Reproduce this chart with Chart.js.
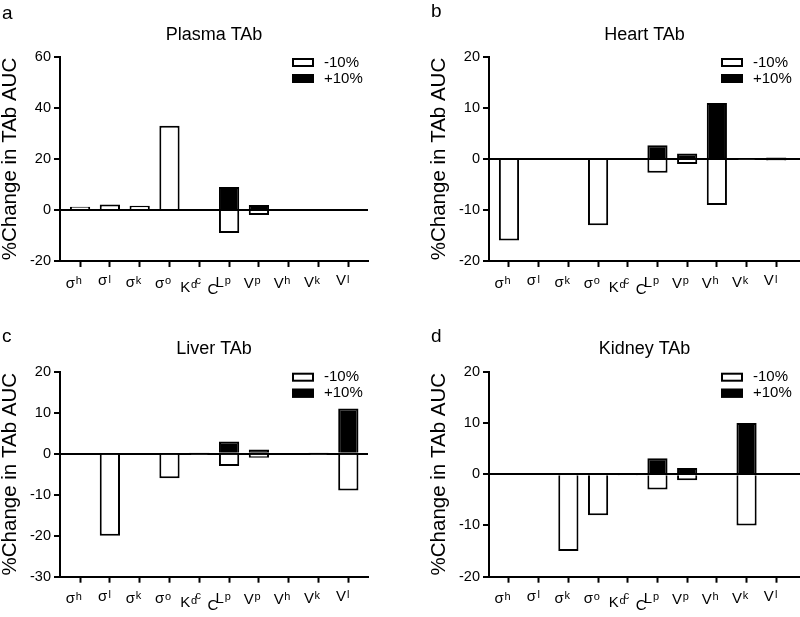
<!DOCTYPE html>
<html><head><meta charset="utf-8">
<script src="https://cdn.jsdelivr.net/npm/chart.js@4.4.0/dist/chart.umd.min.js"></script>
<style>
html,body{margin:0;padding:0;background:#fff;}
#wrap{position:relative;width:800px;height:617px;overflow:hidden;font-family:'Liberation Sans',Arial,sans-serif;background:#fff;}
.panel{position:absolute;}
.letter{position:absolute;font-size:19px;line-height:19px;color:#000;}
</style></head><body>
<div id="wrap">
  <div class="panel" style="left:0;top:0;width:400px;height:300px"><canvas id="cA"></canvas></div>
  <div class="panel" style="left:400px;top:0;width:400px;height:300px"><canvas id="cB"></canvas></div>
  <div class="panel" style="left:0;top:300px;width:400px;height:317px"><canvas id="cC"></canvas></div>
  <div class="panel" style="left:400px;top:300px;width:400px;height:317px"><canvas id="cD"></canvas></div>
  <div class="letter" style="left:2px;top:3px">a</div>
  <div class="letter" style="left:431px;top:1px">b</div>
  <div class="letter" style="left:2px;top:326px">c</div>
  <div class="letter" style="left:431px;top:326px">d</div>
</div>
<script>
// ---------- data ----------
const categories = ['σ_h','σ_l','σ_k','σ_o','K_dc','CL_p','V_p','V_h','V_k','V_l'];
const seriesLabels = ['-10%','+10%'];
const yAxisTitle = '%Change in TAb AUC';

const plasmaMinus = [1.3, 2.2, 1.7, 33, 0, -9, -2, 0, 0, -0.3];
const plasmaPlus  = [0, 0, 0, 0, 0, 9, 2, 0, 0, 0.3];
const heartMinus  = [-16, 0, 0, -13, -0.2, -2.7, -1, -9, -0.1, -0.3];
const heartPlus   = [0, 0, 0, 0, 0.2, 2.7, 1.1, 11, 0.1, 0.3];
const liverMinus  = [0, -20, 0, -6, -0.15, -3, -1, 0, -0.15, -9];
const liverPlus   = [0, 0, 0, 0, 0.15, 3, 1, 0, 0.15, 11];
const kidneyMinus = [0, 0, -15, -8, -0.15, -3, -1.2, 0, -10, -0.2];
const kidneyPlus  = [0, 0, 0, 0, 0.15, 3.1, 1.2, 0, 10, 0.2];

const plasmaTicks = [-20, 0, 20, 40, 60];
const heartTicks  = [-20, -10, 0, 10, 20];
const liverTicks  = [-30, -20, -10, 0, 10, 20];
const kidneyTicks = [-20, -10, 0, 10, 20];

// ---------- styling ----------
const FONT = "'Liberation Sans', Arial, sans-serif";
Chart.defaults.font.family = FONT;
Chart.defaults.color = '#000';

// 45-degree category labels with subscripts, laid out glyph by glyph along the diagonal
const subLabelPlugin = {
  id: 'subLabels',
  afterDraw(chart) {
    const xs = chart.scales.x, ctx = chart.ctx, b = chart.chartArea.bottom;
    const r = Math.SQRT1_2;
    const u = [r, -r], up = [-r, -r], dn = [r, r];
    ctx.save();
    ctx.fillStyle = '#000';
    ctx.textAlign = 'center';
    ctx.textBaseline = 'middle';
    categories.forEach((c, i) => {
      const [main, sub] = c.split('_');
      const glyphs = [...main].map(ch => ({ch, size: 15, drop: 0}))
        .concat([...sub].map(ch => ({ch, size: 11, drop: 3})));
      let total = 0;
      glyphs.forEach(gl => { ctx.font = gl.size + 'px ' + FONT; gl.w = ctx.measureText(gl.ch).width; total += gl.w; });
      const ax = xs.getPixelForValue(i) + 1, ay = b + 18;
      let s = -total;
      glyphs.forEach(gl => {
        const along = s + gl.w / 2, h = gl.size * 0.3;
        const cx = ax + along * u[0] + h * up[0] + gl.drop * dn[0];
        const cy = ay + along * u[1] + h * up[1] + gl.drop * dn[1];
        ctx.font = gl.size + 'px ' + FONT;
        ctx.fillText(gl.ch, cx, cy);
        s += gl.w;
      });
    });
    ctx.restore();
  }
};

const insideLegendPlugin = {
  id: 'insideLegend',
  afterDraw(chart) {
    const ctx = chart.ctx, {left, top} = chart.chartArea;
    ctx.save();
    chart.data.datasets.forEach((ds, i) => {
      const y = top + 1 + i * 16;
      ctx.fillStyle = ds.backgroundColor;
      ctx.fillRect(left + 232, y, 22, 9);
      ctx.lineWidth = 2;
      ctx.strokeStyle = '#000';
      ctx.strokeRect(left + 233, y + 1, 20, 7);
      ctx.fillStyle = '#000';
      ctx.font = '15px ' + FONT;
      ctx.textBaseline = 'middle';
      ctx.textAlign = 'left';
      ctx.fillText(ds.label, left + 264, y + 4.5);
    });
    ctx.restore();
  }
};

function makeChart(id, title, minus, plus, yTicks, g) {
  const toXY = arr => arr.map((v, i) => ({x: i, y: v}));
  return new Chart(document.getElementById(id), {
    type: 'bar',
    data: {
      datasets: [
        {label: seriesLabels[0], data: toXY(minus), backgroundColor: '#ffffff', borderColor: '#000', borderWidth: 2, borderSkipped: 'start'},
        {label: seriesLabels[1], data: toXY(plus), backgroundColor: '#000000', borderColor: '#000', borderWidth: 2, borderSkipped: 'start'}
      ]
    },
    options: {
      responsive: true,
      maintainAspectRatio: false,
      animation: false,
      devicePixelRatio: 1,
      datasets: {bar: {grouped: false, categoryPercentage: 1, barPercentage: 0.68}},
      layout: {padding: {left: g.padLeft, right: g.padRight, top: 0, bottom: 0}},
      plugins: {
        legend: {display: false},
        tooltip: {enabled: false},
        title: {
          display: true, text: title, fullSize: false, color: '#000',
          font: {size: 18, weight: 'normal', lineHeight: 1},
          padding: {top: g.titleTop, bottom: g.titleBottom}
        }
      },
      scales: {
        x: {
          type: 'linear', min: g.xMin, max: g.xMax, offset: false,
          afterBuildTicks: s => { s.ticks = categories.map((c, i) => ({value: i})); },
          afterFit: s => { s.height = g.xHeight; },
          ticks: {display: false},
          grid: {color: 'rgba(0,0,0,0)', drawOnChartArea: false, drawTicks: true, tickLength: 6, tickColor: '#000', tickWidth: 2, offset: false},
          border: {display: true, color: '#000', width: 2}
        },
        y: {
          min: yTicks[0], max: yTicks[yTicks.length - 1],
          afterBuildTicks: s => { s.ticks = yTicks.map(v => ({value: v})); },
          afterFit: s => { s.width = g.yWidth; },
          ticks: {color: '#000', font: {size: 14.5}, padding: 3},
          grid: {
            color: c => (c.tick && c.tick.value === 0) ? '#000' : 'rgba(0,0,0,0)',
            lineWidth: 2, drawTicks: true, tickLength: 6, tickColor: '#000', tickWidth: 2
          },
          border: {display: true, color: '#000', width: 2},
          title: {display: true, text: yAxisTitle, color: '#000', font: {size: 20.5, lineHeight: 1}, padding: {top: 0.5, bottom: 0}}
        }
      }
    },
    plugins: [subLabelPlugin, insideLegendPlugin]
  });
}

const topG = {padLeft: 0, padRight: 32, yWidth: 60, titleTop: 26, titleBottom: 13, xHeight: 39, xMin: -0.673, xMax: 9.66};
const topGR = {padLeft: 29, padRight: 0, yWidth: 60, titleTop: 26, titleBottom: 13, xHeight: 39, xMin: -0.673, xMax: 9.80};
const botG = {padLeft: 0, padRight: 32, yWidth: 60, titleTop: 40, titleBottom: 13.7, xHeight: 40.3, xMin: -0.673, xMax: 9.66};
const botGR = {padLeft: 29, padRight: 0, yWidth: 60, titleTop: 40, titleBottom: 13.7, xHeight: 40.3, xMin: -0.673, xMax: 9.80};

makeChart('cA', 'Plasma TAb', plasmaMinus, plasmaPlus, plasmaTicks, topG);
makeChart('cB', 'Heart TAb', heartMinus, heartPlus, heartTicks, topGR);
makeChart('cC', 'Liver TAb', liverMinus, liverPlus, liverTicks, botG);
makeChart('cD', 'Kidney TAb', kidneyMinus, kidneyPlus, kidneyTicks, botGR);
</script>
</body></html>
